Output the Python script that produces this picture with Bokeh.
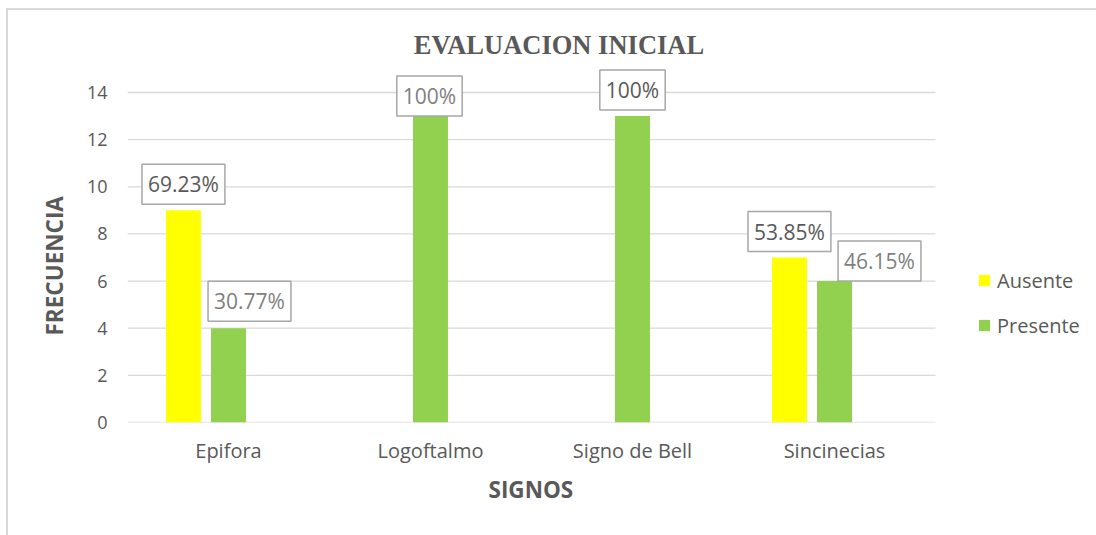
from bokeh.plotting import figure
from bokeh.models import ColumnDataSource, Range1d, FixedTicker, Label, Title
from bokeh.embed import file_html
from bokeh.resources import INLINE

# ---- data ----
categories = ["Epifora", "Logoftalmo", "Signo de Bell", "Sincinecias"]
ausente = [9, 0, 0, 7]
presente = [4, 13, 13, 6]
ausente_pct = ["69.23%", "", "", "53.85%"]
presente_pct = ["30.77%", "100%", "100%", "46.15%"]
y_ticks = [0, 2, 4, 6, 8, 10, 12, 14]
title_text = "EVALUACION INICIAL"
x_title = "SIGNOS"
y_title = "FRECUENCIA"

# ---- layout / style (not data) ----
W, H = 1096, 535
PLOT_L, PLOT_R, PLOT_T, PLOT_B = 127, 935, 92, 422   # plot-area pixels
YELLOW = "#FFFF00"
GREEN = "#92D050"
TXT = "#595959"
GRID = "#D9D9D9"
BAR_W = 0.173
DODGE_A = -0.223
DODGE_P = 0.0
FONT = "Open Sans"
label_style = {
    (0, "a"): (0, 26, "#595959"),
    (0, "p"): (21, 27, "#7F7F7F"),
    (1, "p"): (-1, 20, "#7F7F7F"),
    (2, "p"): (0, 26, "#595959"),
    (3, "a"): (0, 26, "#595959"),
    (3, "p"): (45, 20, "#7F7F7F"),
}

n = len(categories)
ymax = y_ticks[-1]
# extend frame to the top and right edges so annotations are not clipped
x_end = n * (W - PLOT_L) / (PLOT_R - PLOT_L)
y_end = ymax * PLOT_B / (PLOT_B - PLOT_T)

xc = [i + 0.5 for i in range(n)]
src = ColumnDataSource(dict(
    x_a=[x + DODGE_A for x in xc],
    x_p=[x + DODGE_P for x in xc],
    ausente=ausente,
    presente=presente,
))

p = figure(width=W, height=H, output_backend="svg", toolbar_location=None,
           x_range=Range1d(0, x_end), y_range=Range1d(0, y_end),
           min_border_left=PLOT_L, min_border_right=0, min_border_top=0,
           min_border_bottom=H - PLOT_B)
p.outline_line_color = None
p.background_fill_alpha = 0
p.border_fill_alpha = 0
p.styles = {
    "background": "linear-gradient(#D9D9D9,#D9D9D9) 6px 8px / 2px 100% no-repeat, "
                  "linear-gradient(#D9D9D9,#D9D9D9) 6px 8px / 100% 2px no-repeat, white",
}

# gridlines over the category span only
p.segment(x0=[0] * len(y_ticks), x1=[n] * len(y_ticks), y0=y_ticks, y1=y_ticks,
          line_color=GRID, line_width=1.3)

p.vbar(x="x_a", top="ausente", width=BAR_W, source=src, fill_color=YELLOW,
       line_color=None, legend_label="Ausente")
p.vbar(x="x_p", top="presente", width=BAR_W, source=src, fill_color=GREEN,
       line_color=None, legend_label="Presente")

# axes
p.xaxis.ticker = FixedTicker(ticks=xc)
p.xaxis.major_label_overrides = {x: c for x, c in zip(xc, categories)}
p.yaxis.ticker = FixedTicker(ticks=y_ticks)
for ax in (p.xaxis, p.yaxis):
    ax.axis_line_color = None
    ax.major_tick_line_color = None
    ax.minor_tick_line_color = None
    ax.major_tick_out = 0
    ax.major_tick_in = 0
    ax.minor_tick_out = 0
    ax.major_label_text_font = FONT
    ax.major_label_text_color = TXT
p.xaxis.major_label_text_font_size = "20px"
p.yaxis.major_label_text_font_size = "18px"
p.xaxis.major_label_standoff = 14
p.yaxis.major_label_standoff = 20

p.xgrid.grid_line_color = None
p.ygrid.grid_line_color = None

# axis titles as side titles (so they centre on the 0..14 / category span)
yt = Title(text=y_title, align="left", offset=87, standoff=28,
           text_font=FONT, text_font_style="bold", text_font_size="22.5px",
           text_color=TXT)
p.add_layout(yt, "left")
xt = Title(text=x_title, align="left", offset=361, standoff=10,
           text_font=FONT, text_font_style="bold", text_font_size="22.5px",
           text_color=TXT)
p.add_layout(xt, "below")

# data labels
for i in range(n):
    for key, xs, vals, pcts in (("a", DODGE_A, ausente, ausente_pct),
                                ("p", DODGE_P, presente, presente_pct)):
        if not pcts[i]:
            continue
        dx, dy, col = label_style[(i, key)]
        p.add_layout(Label(x=xc[i] + xs, y=vals[i], text=pcts[i],
                           x_offset=dx, y_offset=dy,
                           text_align="center", text_baseline="middle",
                           text_font=FONT, text_font_size="21px", text_color=col,
                           background_fill_color="white",
                           border_line_color="#A6A6A6", border_line_width=1.5,
                           padding=6))

# chart title
p.add_layout(Label(x=2.136, y=16.0, text=title_text, text_align="center",
                   text_baseline="middle", text_font="Liberation Serif",
                   text_font_style="bold", text_font_size="26.5px", text_color=TXT))

# legend
lg = p.legend[0]
lg.location = (850, 83.5)
lg.glyph_width = 14
lg.glyph_height = 14
lg.label_standoff = 6
lg.label_height = 27
lg.spacing = 18
lg.padding = 0
lg.margin = 0
lg.border_line_color = None
lg.background_fill_alpha = 0
lg.label_text_font = FONT
lg.label_text_font_size = "20px"
lg.label_text_color = TXT

open("out.html", "w").write(file_html(p, INLINE))
